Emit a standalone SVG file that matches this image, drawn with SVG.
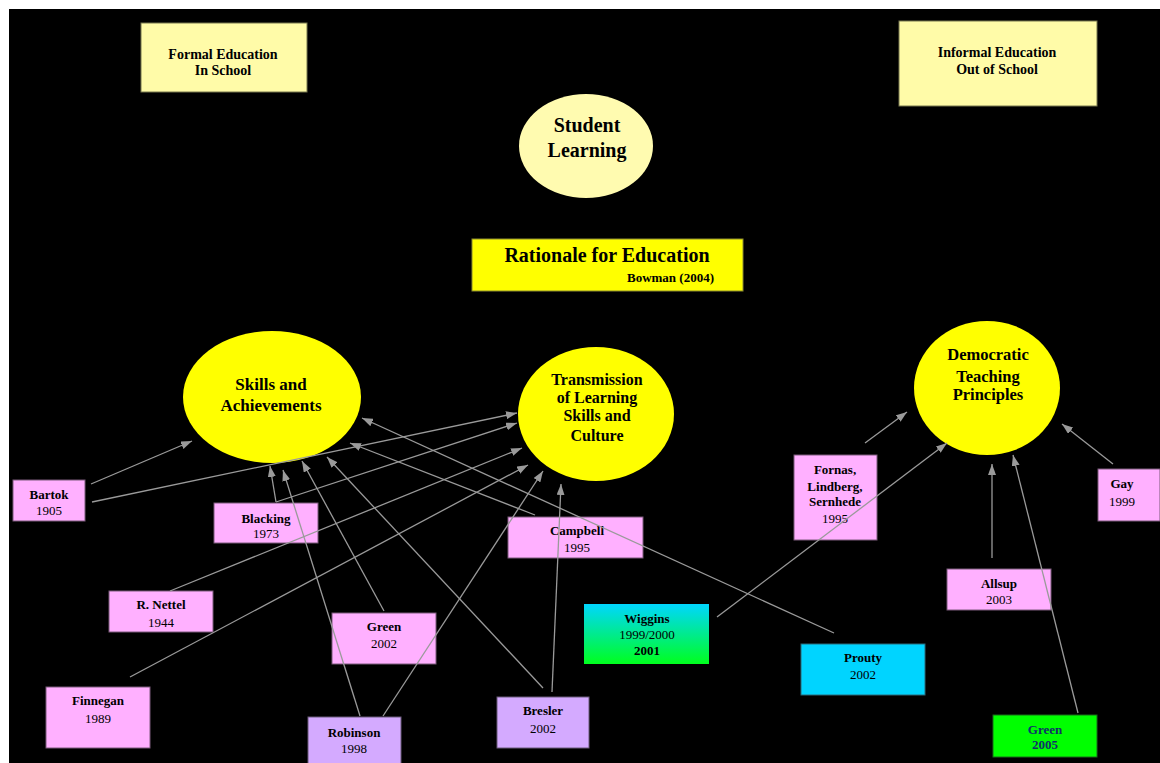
<svg xmlns="http://www.w3.org/2000/svg" width="1160" height="763" viewBox="0 0 1160 763">
<defs>
<marker id="arr" viewBox="0 0 11 8" refX="11" refY="4" markerWidth="11" markerHeight="8" markerUnits="userSpaceOnUse" orient="auto">
<path d="M0,0 L11,4 L0,8 z" fill="#9a9a9a"/>
</marker>
<linearGradient id="wig" x1="0" y1="0" x2="0" y2="1">
<stop offset="0" stop-color="#00D6FF"/>
<stop offset="1" stop-color="#00FF1E"/>
</linearGradient>
<style>
text{font-family:"Liberation Serif","Times New Roman",serif;fill:#000;text-anchor:middle}
.b{font-weight:bold}
.s13{font-size:13px}
.s14{font-size:14px}
.pale{fill:#FFFBA8;stroke:#77774f;stroke-width:1}
.pink{fill:#FFB0FF;stroke:#7a5a7a;stroke-width:1}
.lav{fill:#D4AAFF;stroke:#6a5a7a;stroke-width:1}
.cyan{fill:#00D4FF;stroke:#2a6a7a;stroke-width:1}
.yel{fill:#FFFF00}
.conn line{stroke:#9a9a9a;stroke-width:1.3;marker-end:url(#arr)}
</style>
</defs>
<rect x="0" y="0" width="1160" height="763" fill="#ffffff"/>
<rect x="9" y="9" width="1151" height="754" fill="#000000"/>

<g id="formal">
<rect class="pale" x="141" y="23" width="166" height="69"/>
<text class="b s14" x="223" y="59">Formal Education</text>
<text class="b s14" x="223" y="75">In School</text>
</g>
<g id="informal">
<rect class="pale" x="899" y="21" width="198" height="85"/>
<text class="b s14" x="997" y="57">Informal Education</text>
<text class="b s14" x="997" y="74">Out of School</text>
</g>
<g id="student">
<ellipse cx="586" cy="146" rx="67" ry="52" fill="#FFFBB0"/>
<text class="b" style="font-size:20px" x="587" y="132">Student</text>
<text class="b" style="font-size:20px" x="587" y="157">Learning</text>
</g>
<g id="rationale">
<rect x="472" y="239" width="271" height="52" fill="#FFFF00" stroke="#8a8a30" stroke-width="1"/>
<text class="b" style="font-size:20px" x="607" y="262">Rationale for Education</text>
<text class="b s13" style="text-anchor:end" x="714" y="282">Bowman (2004)</text>
</g>
<g id="skills">
<ellipse class="yel" cx="272" cy="397" rx="89" ry="66"/>
<text class="b" style="font-size:17px" x="271" y="390">Skills and</text>
<text class="b" style="font-size:17px" x="271" y="411">Achievements</text>
</g>
<g id="transmission">
<ellipse class="yel" cx="596" cy="414" rx="78" ry="67"/>
<text class="b" style="font-size:16px" x="597" y="385">Transmission</text>
<text class="b" style="font-size:16px" x="597" y="403">of Learning</text>
<text class="b" style="font-size:16px" x="597" y="421">Skills and</text>
<text class="b" style="font-size:16px" x="597" y="441">Culture</text>
</g>
<g id="democratic">
<ellipse class="yel" cx="987" cy="388" rx="73" ry="67"/>
<text class="b" style="font-size:16.5px" x="988" y="360">Democratic</text>
<text class="b" style="font-size:16.5px" x="988" y="382">Teaching</text>
<text class="b" style="font-size:16.5px" x="988" y="400">Principles</text>
</g>

<g id="bartok">
<rect class="pink" x="13" y="480" width="72" height="41"/>
<text class="b s13" x="49" y="499">Bartok</text>
<text class="s13" x="49" y="515">1905</text>
</g>
<g id="blacking">
<rect class="pink" x="214" y="503" width="104" height="40"/>
<text class="b s13" x="266" y="523">Blacking</text>
<text class="s13" x="266" y="538">1973</text>
</g>
<g id="nettel">
<rect class="pink" x="109" y="591" width="104" height="41"/>
<text class="b s13" x="161" y="609">R. Nettel</text>
<text class="s13" x="161" y="627">1944</text>
</g>
<g id="finnegan">
<rect class="pink" x="46" y="687" width="104" height="61"/>
<text class="b s13" x="98" y="705">Finnegan</text>
<text class="s13" x="98" y="723">1989</text>
</g>
<g id="robinson">
<rect class="lav" x="308" y="717" width="93" height="52"/>
<text class="b s13" x="354" y="737">Robinson</text>
<text class="s13" x="354" y="753">1998</text>
</g>
<g id="green2002">
<rect class="pink" x="332" y="613" width="104" height="51"/>
<text class="b s13" x="384" y="631">Green</text>
<text class="s13" x="384" y="648">2002</text>
</g>
<g id="campbell">
<rect class="pink" x="508" y="517" width="135" height="41"/>
<text class="b s13" x="577" y="535">Campbell</text>
<text class="s13" x="577" y="552">1995</text>
</g>
<g id="bresler">
<rect class="lav" x="497" y="697" width="92" height="51"/>
<text class="b s13" x="543" y="715">Bresler</text>
<text class="s13" x="543" y="733">2002</text>
</g>
<g id="wiggins">
<rect x="584" y="604" width="125" height="60" fill="url(#wig)"/>
<text class="b s13" x="647" y="623">Wiggins</text>
<text class="s13" x="647" y="639">1999/2000</text>
<text class="b s13" x="647" y="655">2001</text>
</g>
<g id="prouty">
<rect class="cyan" x="801" y="644" width="124" height="51"/>
<text class="b s13" x="863" y="662">Prouty</text>
<text class="s13" x="863" y="679">2002</text>
</g>
<g id="fornas">
<rect class="pink" x="794" y="455" width="83" height="85"/>
<text class="b s13" x="835" y="474">Fornas,</text>
<text class="b s13" x="835" y="491">Lindberg,</text>
<text class="b s13" x="835" y="506">Sernhede</text>
<text class="s13" x="835" y="523">1995</text>
</g>
<g id="gay">
<rect class="pink" x="1098" y="469" width="62" height="52"/>
<text class="b s13" x="1122" y="488">Gay</text>
<text class="s13" x="1122" y="506">1999</text>
</g>
<g id="allsup">
<rect class="pink" x="947" y="569" width="104" height="41"/>
<text class="b s13" x="999" y="588">Allsup</text>
<text class="s13" x="999" y="604">2003</text>
</g>
<g id="green2005">
<rect x="993" y="715" width="104" height="42" fill="#00FF00" stroke="#1a6a1a" stroke-width="1"/>
<text class="b s13" style="fill:#10306a" x="1045" y="734">Green</text>
<text class="b s13" style="fill:#10306a" x="1045" y="749">2005</text>
</g>

<g id="connectors" class="conn">
<line x1="91" y1="484" x2="192" y2="441"/>
<line x1="92" y1="502" x2="517" y2="413"/>
<line x1="276" y1="502" x2="270" y2="466"/>
<line x1="276" y1="502" x2="517" y2="423"/>
<line x1="170" y1="591" x2="522" y2="448"/>
<line x1="130" y1="677" x2="528" y2="465"/>
<line x1="360" y1="716" x2="283" y2="470"/>
<line x1="383" y1="716" x2="543" y2="471"/>
<line x1="384" y1="611" x2="302" y2="461"/>
<line x1="543" y1="688" x2="327" y2="457"/>
<line x1="552" y1="692" x2="561" y2="484"/>
<line x1="535" y1="515" x2="350" y2="443"/>
<line x1="834" y1="633" x2="362" y2="418"/>
<line x1="865" y1="443" x2="907" y2="412"/>
<line x1="717" y1="617" x2="947" y2="443"/>
<line x1="992" y1="558" x2="992" y2="464"/>
<line x1="1078" y1="713" x2="1013" y2="455"/>
<line x1="1113" y1="464" x2="1062" y2="424"/>
</g>
</svg>
